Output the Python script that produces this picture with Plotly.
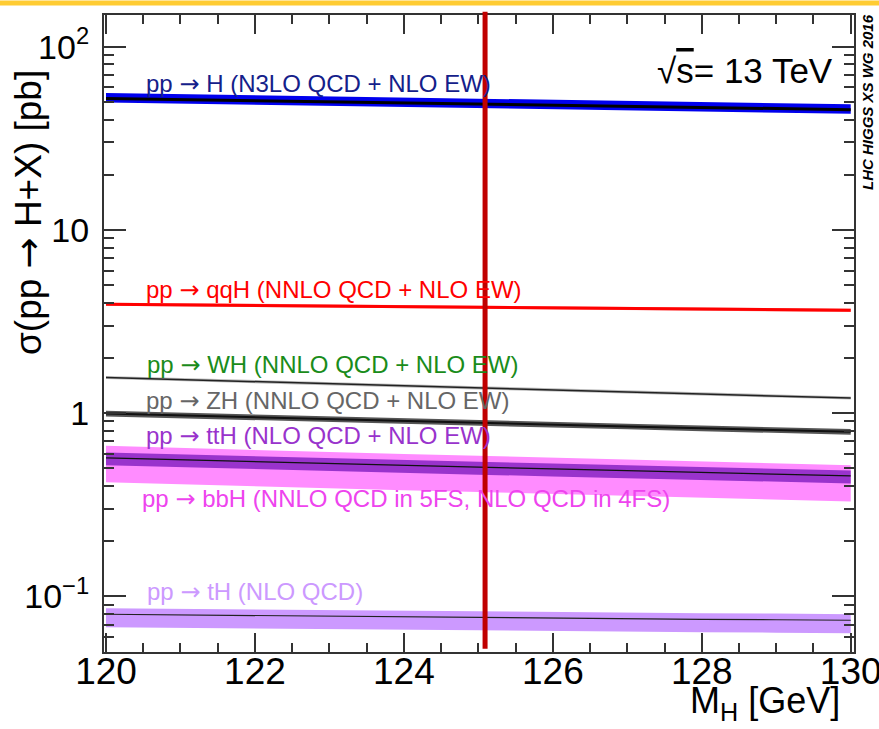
import plotly.graph_objects as go

# ---------------- data ----------------
mass = [120, 121, 122, 123, 124, 125, 126, 127, 128, 129, 130]

xs_ggH = [52.2, 51.5, 50.8, 50.1, 49.3, 48.6, 47.9, 47.2, 46.6, 45.9, 45.3]
xs_qqH = [3.93, 3.90, 3.87, 3.84, 3.81, 3.78, 3.75, 3.72, 3.69, 3.66, 3.64]
xs_WH = [1.565, 1.523, 1.481, 1.440, 1.406, 1.373, 1.340, 1.302, 1.270, 1.240, 1.209]
xs_ZH = [0.994, 0.970, 0.947, 0.925, 0.904, 0.884, 0.865, 0.845, 0.826, 0.808, 0.790]
xs_ttH = [0.570, 0.556, 0.543, 0.531, 0.519, 0.507, 0.496, 0.485, 0.474, 0.464, 0.454]
xs_bbH = [0.552, 0.537, 0.524, 0.511, 0.499, 0.488, 0.476, 0.465, 0.454, 0.443, 0.433]
xs_tH = [0.0798, 0.0791, 0.0784, 0.0777, 0.0771, 0.0765, 0.0760, 0.0754, 0.0749, 0.0745, 0.0740]

# relative uncertainties (+, -)
unc_ggH = (0.07, 0.05)
unc_qqH = (0.02, 0.02)
unc_WH = (0.02, 0.02)
unc_ZH = (0.035, 0.035)
unc_ttH = (0.07, 0.09)
unc_bbH = (0.20, 0.24)
unc_tH = (0.08, 0.15)

mh_ref = 125.09

ARROW = "<span style='font-family:DejaVu Sans'>→</span>"
labels = [
    "pp " + ARROW + " H (N3LO QCD + NLO EW)",
    "pp " + ARROW + " qqH (NNLO QCD + NLO EW)",
    "pp " + ARROW + " WH (NNLO QCD + NLO EW)",
    "pp " + ARROW + " ZH (NNLO QCD + NLO EW)",
    "pp " + ARROW + " ttH (NLO QCD + NLO EW)",
    "pp " + ARROW + " bbH (NNLO QCD in 5FS, NLO QCD in 4FS)",
    "pp " + ARROW + " tH (NLO QCD)",
]

x_ticks = [120, 122, 124, 126, 128, 130]
y_ticks = [0.1, 1, 10, 100]
y_ticktext = ["10<sup>−1</sup>", "1", "10", "10<sup>2</sup>"]

# ---------------- layout geometry ----------------
W, H = 879, 729
L, R, T, B = 104, 25, 15, 77
PW, PH = W - L - R, H - T - B


def px(x):
    return (x - L) / PW


def py(y):
    return (H - B - y) / PH


FONT = "Liberation Sans, Arial, Helvetica, sans-serif"

fig = go.Figure()


def band(vals, unc, color, line_color=None, line_width=0):
    up = [v * (1 + unc[0]) for v in vals]
    dn = [v * (1 - unc[1]) for v in vals]
    fig.add_trace(go.Scatter(x=mass, y=up, mode="lines", line=dict(width=0, color=color),
                             hoverinfo="skip", showlegend=False))
    fig.add_trace(go.Scatter(x=mass, y=dn, mode="lines", line=dict(width=0, color=color),
                             fill="tonexty", fillcolor=color, hoverinfo="skip", showlegend=False))
    if line_color:
        fig.add_trace(go.Scatter(x=mass, y=vals, mode="lines",
                                 line=dict(width=line_width, color=line_color),
                                 hoverinfo="skip", showlegend=False))


band(xs_bbH, unc_bbH, "#ff8cff")
band(xs_ttH, unc_ttH, "#9933cc", "#111111", 1.2)
band(xs_tH, unc_tH, "#cc99ff", "#222222", 1.2)
band(xs_ZH, unc_ZH, "#555555", "#111111", 2)
band(xs_WH, unc_WH, "#bbbbbb", "#222222", 1.5)
band(xs_qqH, unc_qqH, "#ff8888", "#ff0000", 3)
band(xs_ggH, unc_ggH, "#0000ee", "#000000", 3)

# vertical line at measured Higgs mass
fig.add_shape(type="line", x0=mh_ref, x1=mh_ref, xref="x", yref="paper", y0=0.005, y1=1.005,
              line=dict(color="#c00000", width=5), layer="above")

# top yellow bar
fig.add_shape(type="line", xref="paper", yref="paper", x0=px(0), x1=px(W), y0=py(3), y1=py(3),
              line=dict(color="#ffcc33", width=5))

# process labels
label_colors = ["#14208a", "#ff0000", "#1a8c1a", "#666666", "#9933cc", "#ee44ee", "#cc99ff"]
label_ypix = [84, 290, 365, 401, 436, 499, 592]
label_xpix = [144, 144, 145, 144, 144, 140, 145]
for txt, col, yp, xp in zip(labels, label_colors, label_ypix, label_xpix):
    fig.add_annotation(text=txt, xref="paper", yref="paper", x=px(xp), y=py(yp),
                       xanchor="left", yanchor="middle", showarrow=False,
                       font=dict(family=FONT, size=24, color=col))

# sqrt(s)
fig.add_annotation(text="√<span style='text-decoration:overline'>s</span>= 13 TeV",
                   xref="paper", yref="paper", x=px(835), y=py(70),
                   xanchor="right", yanchor="middle", showarrow=False,
                   font=dict(family=FONT, size=35, color="black"))

# WG label
fig.add_annotation(text="<b><i>LHC HIGGS XS WG 2016</i></b>", textangle=-90,
                   xref="paper", yref="paper", x=px(867), y=py(102),
                   xanchor="center", yanchor="middle", showarrow=False,
                   font=dict(family=FONT, size=15, color="black"))

# axis titles
fig.add_annotation(text="σ(pp " + ARROW + " H+X) [pb]", textangle=-90,
                   xref="paper", yref="paper", x=px(28), y=py(213),
                   xanchor="center", yanchor="middle", showarrow=False,
                   font=dict(family=FONT, size=37, color="black"))
fig.add_annotation(text="M<sub>H</sub> [GeV]",
                   xref="paper", yref="paper", x=px(842), y=py(703),
                   xanchor="right", yanchor="middle", showarrow=False,
                   font=dict(family=FONT, size=36, color="black"))

y_minor = [m * 10 ** k for k in (-2, -1, 0, 1, 2) for m in range(2, 10)]

fig.update_xaxes(range=[119.973, 130.044], tickvals=x_ticks, ticktext=[str(v) for v in x_ticks],
                 ticks="inside", ticklen=19, tickwidth=1.5, tickcolor="#333",
                 showline=True, linecolor="#333", linewidth=2, mirror="allticks",
                 showgrid=False, zeroline=False, automargin=False, ticklabeloverflow="allow",
                 ticklabelstandoff=-14,
                 tickfont=dict(family=FONT, size=37, color="black"),
                 minor=dict(ticks="inside", dtick=0.5, tick0=120, ticklen=9, tickwidth=1.5,
                            tickcolor="#333", showgrid=False))
fig.update_yaxes(type="log", range=[-1.304, 2.173], tickvals=y_ticks, ticktext=y_ticktext,
                 ticks="inside", ticklen=22, tickwidth=1.5, tickcolor="#333",
                 showline=True, linecolor="#333", linewidth=2, mirror="allticks",
                 showgrid=False, zeroline=False, ticklabelstandoff=6, automargin=False,
                 ticklabeloverflow="allow",
                 tickfont=dict(family=FONT, size=34, color="black"),
                 minor=dict(ticks="inside", tickvals=y_minor, ticklen=10, tickwidth=1.5,
                            tickcolor="#333", showgrid=False))

fig.update_layout(width=W, height=H, margin=dict(l=L, r=R, t=T, b=B, pad=0, autoexpand=False),
                  paper_bgcolor="white", plot_bgcolor="white", showlegend=False)

fig.write_html("out.html", config={"displayModeBar": False},
               post_script="document.body.style.margin='0';document.body.style.overflow='hidden';")
